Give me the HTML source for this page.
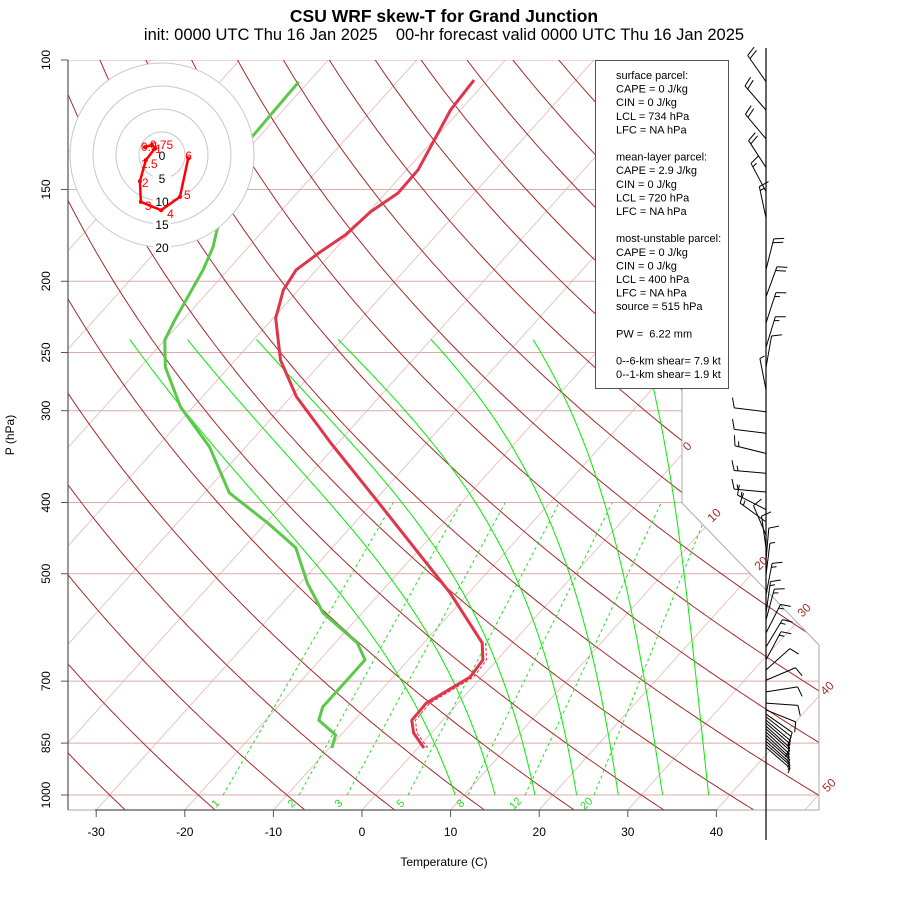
<!DOCTYPE html>
<html><head><meta charset="utf-8"><title>CSU WRF skew-T</title>
<style>
html,body{margin:0;padding:0;background:#fff;}
svg{display:block;font-family:"Liberation Sans",sans-serif;}
</style></head>
<body>
<svg id="chart" xmlns="http://www.w3.org/2000/svg" width="900" height="900" viewBox="0 0 900 900">
  <defs>
    <clipPath id="plotclip"><polygon points="68,60 682,60 682,503 819,645 819,810 68,810"/></clipPath>
  </defs>
  <rect width="900" height="900" fill="#fff"/>
  <text x="444" y="22" text-anchor="middle" font-size="17.5" font-weight="bold">CSU WRF skew-T for Grand Junction</text>
  <text x="444" y="40" text-anchor="middle" font-size="16.5" xml:space="preserve" style="white-space:pre">init: 0000 UTC Thu 16 Jan 2025    00-hr forecast valid 0000 UTC Thu 16 Jan 2025</text>
  <g id="bg" clip-path="url(#plotclip)"></g>
  <polyline points="682,60 682,503 819,645 819,810 68,810" fill="none" stroke="#aaa" stroke-width="1"/>
  <g id="profiles" clip-path="url(#plotclip)"></g>
  <g id="axes"></g>
  <g id="hodo"></g>
  <g id="legend"></g>
  <g id="barbs"></g>
  <text x="444" y="866" text-anchor="middle" font-size="12">Temperature (C)</text>
  <text x="14" y="435" text-anchor="middle" font-size="12" transform="rotate(-90 14 435)">P (hPa)</text>
</svg>
<script>
// ---- data ----
const tempP = [106.5,117,141,151.7,161,173,182.5,193,205.5,224.5,256,287,332,400.5,531,621,655,691,750,791,823.5,863];
const tempT = [-61.5,-61.1,-58.7,-58.6,-59.8,-60.3,-61.4,-62.3,-61.7,-59.7,-54.9,-49.4,-40.8,-29.3,-12.1,-3.4,-1.6,-1.3,-3.6,-3.5,-2.0,0.7];
const dewP = [107.1,127.3,170.3,179.6,193,225.8,240.4,261.6,296.6,336,388,426.5,461,515,565.5,621,655,697.5,759,791,828.5,863];
const dewT = [-81.1,-80.8,-75.3,-74.0,-72.8,-70.9,-70.0,-67.2,-61.4,-54.1,-47.2,-39.8,-34.1,-29.2,-24.4,-17.5,-14.9,-14.9,-14.9,-14.0,-10.6,-9.7];
const hodoU = [-3.7,-2.2,-1.5,-3.5,-4.8,-4.6,-0.2,3.9,5.7];
const hodoV = [1.7,2.2,1.5,-1.1,-5.7,-10.2,-12,-9.1,-0.7];
const hodoLabels = ["0.5","0.75","1","1.5","2","3","4","5","6"];
const barbP = [107,117,128,140,151,164,193,210,228,246,262,281,301,322,343,365,387,409,425,443,461,479,502,534,566,578,602,629,655,676,698,724,750,766,776,783,791,798,806,813,821,829,837,845,853,861];
const barbDir = [325,319,320,327,332,348,14,20,18,17,10,349,277,277,284,275,275,297,306,337,352,5,7,11,8,15,27,31,28,48,67,81,94,112,125,128,130,131,132,132,133,133,132,132,131,131];
const barbSpd = [20,20,20,20,15,15,20,20,15,15,10,5,10,10,15,15,15,15,15,10,10,10,5,15,15,15,15,15,15,10,10,10,10,10,10,10,5,5,10,5,5,5,5,5,5,5];
const xTicks = [-30,-20,-10,0,10,20,30,40];
const pTicks = [100,150,200,250,300,400,500,700,850,1000];
const isoLabels = [0,10,20,30,40,50];
const mixLabels = ["1","2","3","5","8","12","20"];
const moistStart = [9,13.5,18,22.7,27.4,32.4,37.6];
const moistTopT = [-74,-67.5,-59.7,-50.5,-40,-28.5,-16.3];

// ---- axis functions ----
const NS="http://www.w3.org/2000/svg";
function Y(p){return 795-319.2*Math.log(1000/p);}
function X(T,p){return 362+8.86*T+0.9*(810-Y(p));}
function XY(T,y){return 362+8.86*T+0.9*(810-y);}
function mk(tag,attrs,parent){const e=document.createElementNS(NS,tag);for(const k in attrs)e.setAttribute(k,attrs[k]);parent.appendChild(e);return e;}
const bg=document.getElementById('bg');

for(let T=-150;T<=50;T+=10){
  const l=mk('line',{x1:XY(T,810),y1:810,x2:XY(T,60),y2:60,stroke:'#ebc4c4','stroke-width':1},bg);
  
  
}
pTicks.forEach(p=>{
  const l=mk('line',{x1:68,y1:Y(p),x2:820,y2:Y(p),stroke:'#dcaaaa','stroke-width':1},bg);
  
  
});
for(let th=-40;th<=260;th+=10){
  let pts=[];
  for(let p=1060;p>=95;p-=5){const T=(th+273.15)*Math.pow(p/1000,0.2857)-273.15;pts.push(X(T,p).toFixed(1)+','+Y(p).toFixed(1));}
  const l=mk('polyline',{points:pts.join(' '),fill:'none',stroke:'#a52a2a','stroke-width':1},bg);
  
  
}
// moist adiabats: physical shape, rescaled to reference end temperature at 240 hPa
function es(Tc){return 6.112*Math.exp(17.67*Tc/(Tc+243.5));}
moistStart.forEach((T0,k)=>{
  let T=T0+273.15,arr=[];
  for(let p=1000;p>=240;p-=2){
    arr.push([p,T-273.15]);
    const e=es(T-273.15),rs=0.622*e/(p-e),Rd=287,cp=1004,L=2.5e6;
    const dTdp=(Rd*T+L*rs)/(p*(cp+L*L*rs*0.622/(Rd*T*T)));
    T-=dTdp*2;
  }
  const pTop=arr[arr.length-1][0];
  const dryTop=T0+ (arr[arr.length-1][1]-T0);
  const sc=(moistTopT[k]-T0)/(dryTop-T0);
  const pts=arr.map(([p,t])=>X(T0+(t-T0)*sc,p).toFixed(1)+','+Y(p).toFixed(1));
  const l=mk('polyline',{points:pts.join(' '),fill:'none',stroke:'#00ee00','stroke-width':1},bg);
  
  
});
const mixBottom=[223,299,347,408,468,525,594];
const mixTop=[393,461,505,559,612,661,711];
mixLabels.forEach((lab,i)=>{
  const l=mk('line',{x1:mixBottom[i],y1:795,x2:mixTop[i],y2:503,stroke:'#22dd22','stroke-width':1,'stroke-dasharray':'3,3'},bg);
  
  
});

const prof=document.getElementById('profiles');
function line(P,T){return P.map((p,i)=>X(T[i],p).toFixed(1)+','+Y(p).toFixed(1)).join(' ');}
const dl=mk('polyline',{points:line(dewP,dewT),fill:'none',stroke:'#5cc84a','stroke-width':3,'stroke-linejoin':'round'},prof);


const vP=tempP.filter(p=>p>=560), vT=tempT.slice(tempP.length-vP.length).map(t=>t+0.4);
const vl=mk('polyline',{points:line(vP,vT),fill:'none',stroke:'#e83040','stroke-width':1,'stroke-dasharray':'3,2'},prof);


const tl=mk('polyline',{points:line(tempP,tempT),fill:'none',stroke:'#e0354a','stroke-width':3,'stroke-linejoin':'round'},prof);



const ax=document.getElementById('axes');
mk('line',{x1:68,y1:60,x2:68,y2:810,stroke:'#555','stroke-width':1.2},ax);
mk('line',{x1:95,y1:810,x2:717,y2:810,stroke:'#555','stroke-width':1.2},ax);
pTicks.forEach(p=>{
  const y=Y(p);
  mk('line',{x1:61,y1:y,x2:68,y2:y,stroke:'#555'},ax);
  const t=mk('text',{x:50,y:y,'font-size':12,'text-anchor':'middle',transform:`rotate(-90 50 ${y})`},ax);
  t.textContent=p;
  
  
});
xTicks.forEach(T=>{
  const x=XY(T,810);
  mk('line',{x1:x,y1:810,x2:x,y2:817,stroke:'#555'},ax);
  const t=mk('text',{x:x,y:836,'font-size':12,'text-anchor':'middle'},ax);
  t.textContent=T;
  
  
});
const isoPos=[[690,449],[717,518],[764,566],[807,613],[830,691],[832,788]];
isoLabels.forEach((v,i)=>{
  const [x,y]=isoPos[i];
  const t=mk('text',{x:x,y:y,'font-size':12,fill:'#a52a2a','text-anchor':'middle',transform:`rotate(-45 ${x} ${y})`},ax);
  t.textContent=v;
  
  
});
const mixPos=[218,294,341,403,463,518,589];
mixLabels.forEach((v,i)=>{
  const x=mixPos[i],y=806;
  const t=mk('text',{x:x,y:y,'font-size':11,fill:'#22dd22','text-anchor':'middle',transform:`rotate(-45 ${x} ${y})`},ax);
  t.textContent=v;
  
  
});

const hg=document.getElementById('hodo');
const hcx=162,hcy=155,hs=4.6;
[92,69,46,23].forEach((r,i)=>{
  const c=mk('circle',{cx:hcx,cy:hcy,r:r,fill:i==0?'#fff':'none',stroke:'#c8c8c8','stroke-width':1},hg);
  
  
});
["0","5","10","15","20"].forEach((v,i)=>{
  const y=hcy+23*i;
  if(i>0)mk('rect',{x:hcx-9,y:y-7,width:18,height:13,fill:'#fff'},hg);
  const t=mk('text',{x:hcx,y:y+5,'font-size':12,'text-anchor':'middle'},hg);
  t.textContent=v;
  
  
});
const hpts=hodoU.map((u,i)=>[hcx+u*hs,hcy-hodoV[i]*hs]);
const hl=mk('polyline',{points:hpts.map(p=>p.join(',')).join(' '),fill:'none',stroke:'#ff0000','stroke-width':2.5},hg);


const hOff=[[-4,4],[-2,4],[0,5],[-5,8],[2,6],[4,8],[6,8],[4,2],[-3,2]];
hpts.forEach((p,i)=>{
  mk('circle',{cx:p[0],cy:p[1],r:2,fill:'#ff0000'},hg);
  const t=mk('text',{x:p[0]+hOff[i][0],y:p[1]+hOff[i][1],'font-size':12,fill:'#ff0000'},hg);
  t.textContent=hodoLabels[i];
  
  
});

const lg=document.getElementById('legend');
const lr=mk('rect',{x:595.5,y:60.5,width:133,height:328,fill:'#fff',stroke:'#555','stroke-width':1},lg);


const lines=["surface parcel:","CAPE = 0 J/kg","CIN = 0 J/kg","LCL = 734 hPa","LFC = NA hPa","","mean-layer parcel:","CAPE = 2.9 J/kg","CIN = 0 J/kg","LCL = 720 hPa","LFC = NA hPa","","most-unstable parcel:","CAPE = 0 J/kg","CIN = 0 J/kg","LCL = 400 hPa","LFC = NA hPa","source = 515 hPa","","PW =  6.22 mm","","0--6-km shear= 7.9 kt","0--1-km shear= 1.9 kt"];
lines.forEach((s,i)=>{
  if(!s)return;
  const t=mk('text',{x:616,y:79+i*13.6,'font-size':11,style:'white-space:pre'},lg);
  t.textContent=s;
  
  
});

const bb=document.getElementById('barbs');
const sx=766;
const st=mk('line',{x1:sx,y1:48,x2:sx,y2:840,stroke:'#000','stroke-width':1.2},bb);


barbP.forEach((p,i)=>{
  const y=Y(p),d=barbDir[i]*Math.PI/180,len=32;
  const ux=Math.sin(d),uy=-Math.cos(d);
  const tx=sx+ux*len,ty=y+uy*len;
  const g=mk('g',{},bb);
  
  
  mk('line',{x1:sx,y1:y,x2:tx,y2:ty,stroke:'#000','stroke-width':1},g);
  let s=barbSpd[i],pos=0;
  const px=-uy,py=ux;
  while(s>=10){
    const bx=tx-ux*pos,by=ty-uy*pos;
    mk('line',{x1:bx,y1:by,x2:bx+px*10+ux*3,y2:by+py*10+uy*3,stroke:'#000','stroke-width':1},g);
    s-=10;pos+=4;
  }
  if(s>=5){
    const bx=tx-ux*pos,by=ty-uy*pos;
    mk('line',{x1:bx,y1:by,x2:bx+px*5+ux*1.5,y2:by+py*5+uy*1.5,stroke:'#000','stroke-width':1},g);
  }
});
</script>
</body></html>
